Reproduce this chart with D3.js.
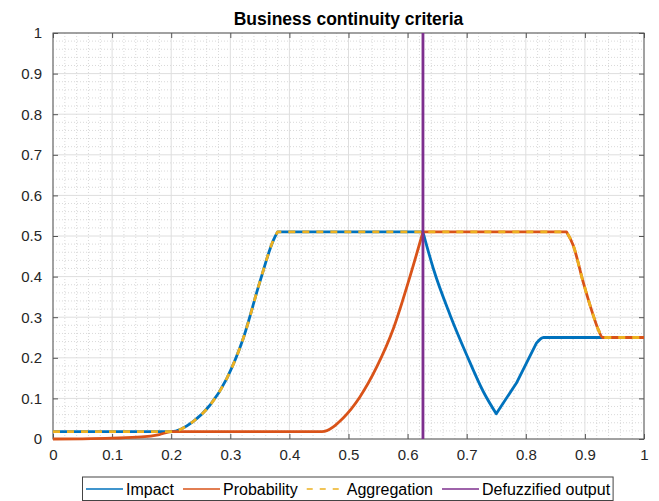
<!DOCTYPE html>
<html>
<head>
<meta charset="utf-8">
<script src="https://cdn.jsdelivr.net/npm/d3@7/dist/d3.min.js"></script>
<style>
  html, body { margin: 0; padding: 0; background: #fff; }
  svg { display: block; font-family: "Liberation Sans", Arial, Helvetica, sans-serif; }
</style>
</head>
<body>
<svg id="chart" width="659" height="501"></svg>
<script>
// ---- data ----
const titleText = "Business continuity criteria";

const xTickValues = [0, 0.1, 0.2, 0.3, 0.4, 0.5, 0.6, 0.7, 0.8, 0.9, 1];
const xTickLabels = ["0", "0.1", "0.2", "0.3", "0.4", "0.5", "0.6", "0.7", "0.8", "0.9", "1"];
const yTickValues = [0, 0.1, 0.2, 0.3, 0.4, 0.5, 0.6, 0.7, 0.8, 0.9, 1];
const yTickLabels = ["0", "0.1", "0.2", "0.3", "0.4", "0.5", "0.6", "0.7", "0.8", "0.9", "1"];
const minorStep = 0.02;

// Impact membership (clipped output)
const impactX = [0, 0.2, 0.237, 0.266, 0.294, 0.322, 0.350, 0.373, 0.38, 0.626, 0.6435, 0.672, 0.700, 0.728, 0.75, 0.785, 0.818, 0.83, 1];
const impactY = [0.018, 0.018, 0.043, 0.084, 0.149, 0.248, 0.387, 0.49, 0.51, 0.51, 0.42, 0.305, 0.207, 0.117, 0.062, 0.14, 0.236, 0.25, 0.25];
const impactCorners = [0.38, 0.626, 0.75, 0.785, 0.818];

// Probability membership (clipped output)
const probX = [0, 0.05, 0.1, 0.15, 0.18, 0.2, 0.455, 0.491, 0.519, 0.548, 0.576, 0.604, 0.626, 0.869, 0.880, 0.897, 0.914, 0.923, 0.93, 1];
const probY = [0, 0.0005, 0.002, 0.005, 0.011, 0.018, 0.018, 0.052, 0.103, 0.178, 0.272, 0.40, 0.51, 0.51, 0.478, 0.387, 0.305, 0.268, 0.25, 0.25];
const probCorners = [0.626, 0.869];

// Aggregated output
const aggX = [0, 0.2, 0.237, 0.266, 0.294, 0.322, 0.350, 0.373, 0.38, 0.869, 0.880, 0.897, 0.914, 0.923, 0.93, 1];
const aggY = [0.018, 0.018, 0.043, 0.084, 0.149, 0.248, 0.387, 0.49, 0.51, 0.51, 0.478, 0.387, 0.305, 0.268, 0.25, 0.25];
const aggCorners = [0.38, 0.869];

// Defuzzified (centroid) value
const defuzzValue = 0.626;

const seriesNames = ["Impact", "Probability", "Aggregation", "Defuzzified output"];
const seriesColors = ["#0072BD", "#D95319", "#EDB120", "#7E2F8E"];

// ---- layout ----
const svg = d3.select("#chart");
const plot = { left: 53, right: 644, top: 33, bottom: 439 };

const x = d3.scaleLinear().domain([0, 1]).range([plot.left, plot.right]);
const y = d3.scaleLinear().domain([0, 1]).range([plot.bottom, plot.top]);

// ---- grid ----
const minorVals = d3.range(0, 1 + 1e-9, minorStep).filter(v => Math.abs(v * 10 - Math.round(v * 10)) > 1e-6);
const grid = svg.append("g");
grid.selectAll("line.mx").data(minorVals).join("line")
  .attr("x1", d => x(d)).attr("x2", d => x(d))
  .attr("y1", plot.top).attr("y2", plot.bottom)
  .attr("stroke", "#cfcfcf").attr("stroke-width", 0.8).attr("stroke-dasharray", "1,2");
grid.selectAll("line.my").data(minorVals).join("line")
  .attr("y1", d => y(d)).attr("y2", d => y(d))
  .attr("x1", plot.left).attr("x2", plot.right)
  .attr("stroke", "#cfcfcf").attr("stroke-width", 0.8).attr("stroke-dasharray", "1,2");
grid.selectAll("line.Mx").data(xTickValues).join("line")
  .attr("x1", d => x(d)).attr("x2", d => x(d))
  .attr("y1", plot.top).attr("y2", plot.bottom)
  .attr("stroke", "#dedede").attr("stroke-width", 1);
grid.selectAll("line.My").data(yTickValues).join("line")
  .attr("y1", d => y(d)).attr("y2", d => y(d))
  .attr("x1", plot.left).attr("x2", plot.right)
  .attr("stroke", "#dedede").attr("stroke-width", 1);

// ---- axes (ticks inward on all four sides) ----
const axisColor = "#555";
const tickLen = 5;
function styleAxis(g) {
  g.select(".domain").remove();
  g.selectAll(".tick line").attr("stroke", axisColor);
  g.selectAll(".tick text")
    .attr("fill", "#262626")
    .style("font-size", "15px")
    .style("font-family", "\"Liberation Sans\", Arial, sans-serif");
}
svg.append("g").attr("transform", `translate(0,${plot.bottom})`)
  .call(d3.axisBottom(x).tickValues(xTickValues).tickFormat((d, i) => xTickLabels[i])
    .tickSizeInner(-tickLen).tickSizeOuter(0).tickPadding(10))
  .call(styleAxis);
svg.append("g").attr("transform", `translate(0,${plot.top})`)
  .call(d3.axisTop(x).tickValues(xTickValues).tickFormat("")
    .tickSizeInner(-tickLen).tickSizeOuter(0))
  .call(styleAxis);
svg.append("g").attr("transform", `translate(${plot.left},0)`)
  .call(d3.axisLeft(y).tickValues(yTickValues).tickFormat((d, i) => yTickLabels[i])
    .tickSizeInner(-tickLen).tickSizeOuter(0).tickPadding(11))
  .call(styleAxis);
svg.append("g").attr("transform", `translate(${plot.right},0)`)
  .call(d3.axisRight(y).tickValues(yTickValues).tickFormat("")
    .tickSizeInner(-tickLen).tickSizeOuter(0))
  .call(styleAxis);

svg.append("rect")
  .attr("x", plot.left).attr("y", plot.top)
  .attr("width", plot.right - plot.left).attr("height", plot.bottom - plot.top)
  .attr("fill", "none").attr("stroke", axisColor).attr("stroke-width", 1);

// ---- curves ----
const lineGen = d3.line().x(d => x(d[0])).y(d => y(d[1])).curve(d3.curveMonotoneX);

// smooth pieces joined at sharp corners into a single path
function cornerPath(xs, ys, corners) {
  const pts = xs.map((v, i) => [v, ys[i]]);
  const segs = [];
  let cur = [pts[0]];
  for (let i = 1; i < pts.length; i++) {
    cur.push(pts[i]);
    if (corners.includes(xs[i]) && i < pts.length - 1) {
      segs.push(cur);
      cur = [pts[i]];
    }
  }
  segs.push(cur);
  return segs.map((s, k) => {
    const d = lineGen(s);
    return k === 0 ? d : "L" + d.slice(1);
  }).join("");
}

const lw = 2.8;
svg.append("path")
  .attr("d", cornerPath(impactX, impactY, impactCorners))
  .attr("fill", "none").attr("stroke", seriesColors[0]).attr("stroke-width", lw)
  .attr("stroke-linejoin", "round");
svg.append("path")
  .attr("d", cornerPath(probX, probY, probCorners))
  .attr("fill", "none").attr("stroke", seriesColors[1]).attr("stroke-width", lw)
  .attr("stroke-linejoin", "round");
svg.append("path")
  .attr("d", cornerPath(aggX, aggY, aggCorners))
  .attr("fill", "none").attr("stroke", seriesColors[2]).attr("stroke-width", lw)
  .attr("stroke-dasharray", "7,7").attr("stroke-linejoin", "round");
svg.append("line")
  .attr("x1", x(defuzzValue)).attr("x2", x(defuzzValue))
  .attr("y1", y(1)).attr("y2", y(0))
  .attr("stroke", seriesColors[3]).attr("stroke-width", lw);

// ---- title ----
svg.append("text")
  .attr("x", (plot.left + plot.right) / 2).attr("y", 25)
  .attr("text-anchor", "middle")
  .style("font-size", "17.5px").style("font-weight", "bold")
  .attr("fill", "#000")
  .text(titleText);

// ---- legend ----
const legend = svg.append("g");
const legendBox = legend.append("rect")
  .attr("fill", "#fff").attr("stroke", "#444").attr("stroke-width", 1);
const legY = 489;
let cx = 86;
const sampleLen = 37;
seriesNames.forEach((name, i) => {
  const ln = legend.append("line")
    .attr("x1", cx).attr("x2", cx + sampleLen)
    .attr("y1", legY).attr("y2", legY)
    .attr("stroke", seriesColors[i]).attr("stroke-width", 1.6);
  if (i === 2) ln.attr("stroke-dasharray", "6,7");
  cx += sampleLen + 3;
  const t = legend.append("text")
    .attr("x", cx).attr("y", legY + 6)
    .style("font-size", "16px").attr("fill", "#000")
    .text(name);
  cx += t.node().getComputedTextLength() + 9;
});
legendBox.attr("x", 82.5).attr("y", 477).attr("width", cx - 9 + 3 - 82.5).attr("height", 23.5);
</script>
</body>
</html>
